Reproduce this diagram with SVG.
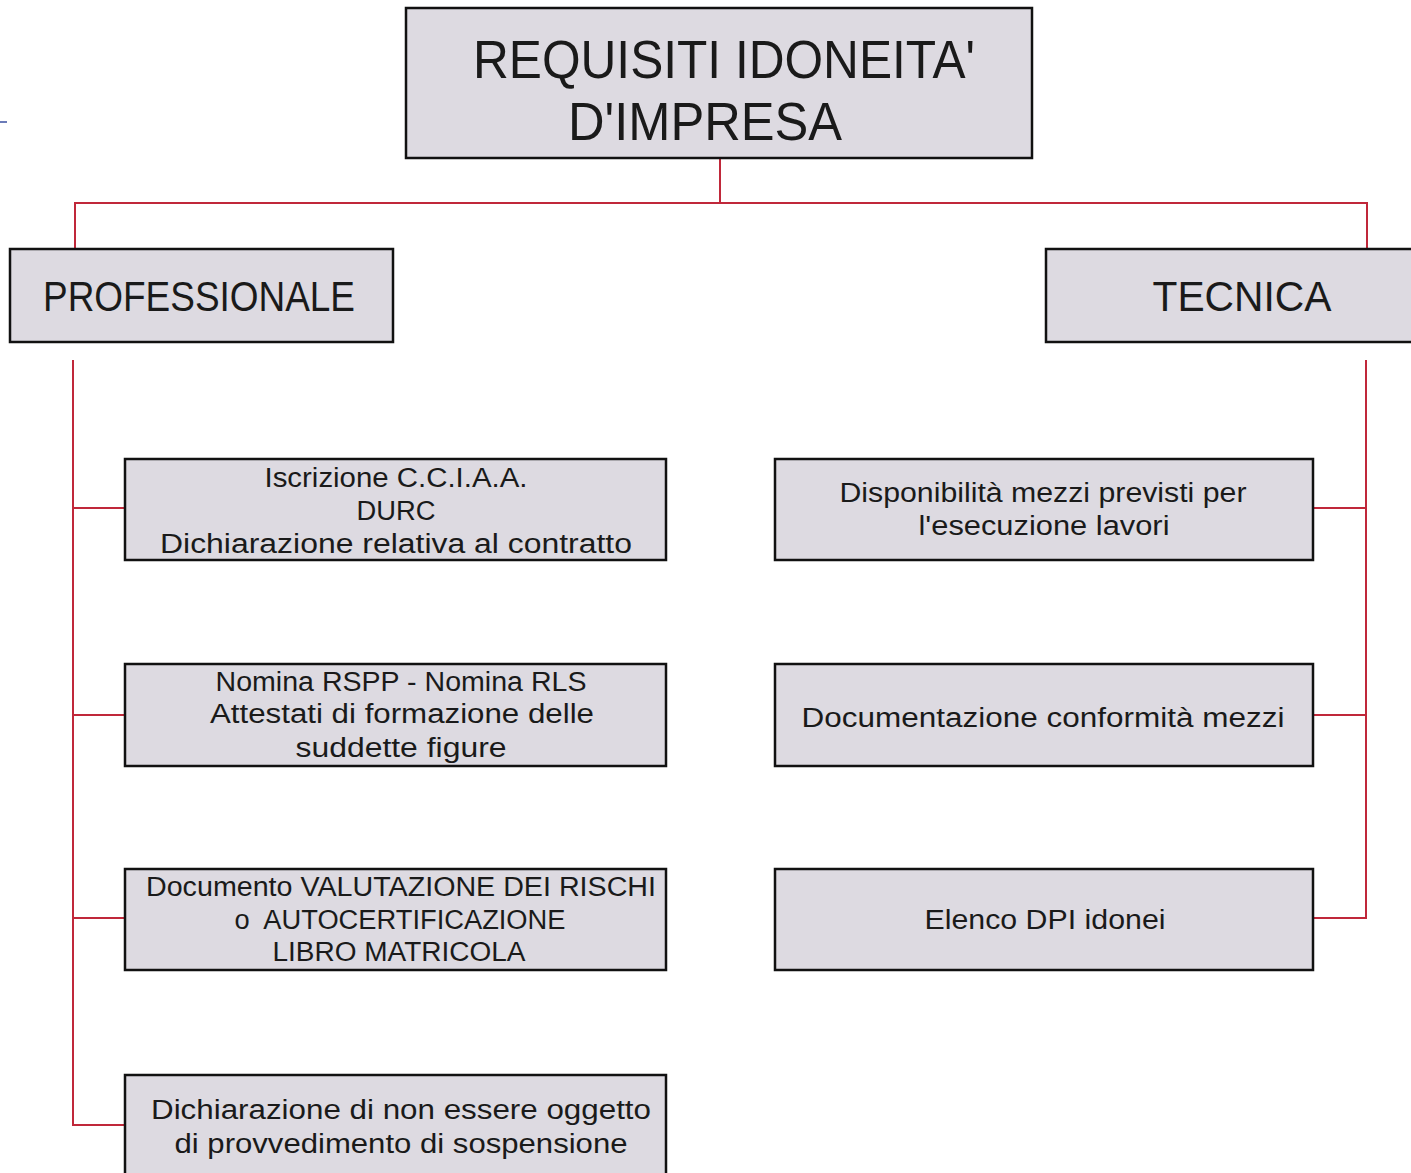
<svg xmlns="http://www.w3.org/2000/svg" width="1411" height="1173" viewBox="0 0 1411 1173">
<style>
.box{fill:#dddae1;stroke:#111;stroke-width:2.5}
.t{font-family:"Liberation Sans",Arial,sans-serif;fill:#1a1a1a;text-anchor:middle}
.big{font-size:54px}
.mid{font-size:42px}
.sm{font-size:27px}
.c{fill:none;stroke:#c0283a;stroke-width:2}
</style>
<rect width="1411" height="1173" fill="#fff"/>
<line x1="0" y1="122" x2="7" y2="122" stroke="#3a4fa0" stroke-width="1.5"/>
<g id="connectors">
<polyline class="c" points="720,158 720,203"/>
<polyline class="c" points="75,249 75,203 1367,203 1367,249"/>
<polyline class="c" points="73,360 73,1125 125,1125"/>
<line class="c" x1="73" y1="508" x2="125" y2="508"/>
<line class="c" x1="73" y1="715" x2="125" y2="715"/>
<line class="c" x1="73" y1="918" x2="125" y2="918"/>
<polyline class="c" points="1366,360 1366,918 1313,918"/>
<line class="c" x1="1313" y1="508" x2="1366" y2="508"/>
<line class="c" x1="1313" y1="715" x2="1366" y2="715"/>
</g>
<g id="root">
<rect class="box" x="406" y="8" width="626" height="150"/>
<text class="t big" x="724" y="78" textLength="502" lengthAdjust="spacingAndGlyphs">REQUISITI IDONEITA'</text>
<text class="t big" x="705" y="140" textLength="274" lengthAdjust="spacingAndGlyphs">D'IMPRESA</text>
</g>
<g id="professionale">
<rect class="box" x="10" y="249" width="383" height="93"/>
<text class="t mid" x="199" y="311" textLength="312" lengthAdjust="spacingAndGlyphs">PROFESSIONALE</text>
</g>
<g id="tecnica">
<rect class="box" x="1046" y="249" width="370" height="93"/>
<text class="t mid" x="1242" y="311" textLength="179" lengthAdjust="spacingAndGlyphs">TECNICA</text>
</g>
<g id="p1">
<rect class="box" x="125" y="459" width="541" height="101"/>
<text class="t sm" x="396" y="487" textLength="263" lengthAdjust="spacingAndGlyphs">Iscrizione C.C.I.A.A.</text>
<text class="t sm" x="396" y="520" textLength="79" lengthAdjust="spacingAndGlyphs">DURC</text>
<text class="t sm" x="396" y="553" textLength="472" lengthAdjust="spacingAndGlyphs">Dichiarazione relativa al contratto</text>
</g>
<g id="p2">
<rect class="box" x="125" y="664" width="541" height="102"/>
<text class="t sm" x="401" y="691" textLength="371" lengthAdjust="spacingAndGlyphs">Nomina RSPP - Nomina RLS</text>
<text class="t sm" x="402" y="723" textLength="384" lengthAdjust="spacingAndGlyphs">Attestati di formazione delle</text>
<text class="t sm" x="401" y="757" textLength="211" lengthAdjust="spacingAndGlyphs">suddette figure</text>
</g>
<g id="p3">
<rect class="box" x="125" y="869" width="541" height="101"/>
<text class="t sm" x="401" y="896" textLength="510" lengthAdjust="spacingAndGlyphs">Documento VALUTAZIONE DEI RISCHI</text>
<text class="t sm" x="400" y="929" textLength="331" lengthAdjust="spacingAndGlyphs">o&#160; AUTOCERTIFICAZIONE</text>
<text class="t sm" x="399" y="961" textLength="253" lengthAdjust="spacingAndGlyphs">LIBRO MATRICOLA</text>
</g>
<g id="p4">
<rect class="box" x="125" y="1075" width="541" height="110"/>
<text class="t sm" x="401" y="1119" textLength="500" lengthAdjust="spacingAndGlyphs">Dichiarazione di non essere oggetto</text>
<text class="t sm" x="401" y="1153" textLength="453" lengthAdjust="spacingAndGlyphs">di provvedimento di sospensione</text>
</g>
<g id="t1">
<rect class="box" x="775" y="459" width="538" height="101"/>
<text class="t sm" x="1043" y="502" textLength="407" lengthAdjust="spacingAndGlyphs">Disponibilità mezzi previsti per</text>
<text class="t sm" x="1044" y="535" textLength="251" lengthAdjust="spacingAndGlyphs">l'esecuzione lavori</text>
</g>
<g id="t2">
<rect class="box" x="775" y="664" width="538" height="102"/>
<text class="t sm" x="1043" y="727" textLength="483" lengthAdjust="spacingAndGlyphs">Documentazione conformità mezzi</text>
</g>
<g id="t3">
<rect class="box" x="775" y="869" width="538" height="101"/>
<text class="t sm" x="1045" y="929" textLength="241" lengthAdjust="spacingAndGlyphs">Elenco DPI idonei</text>
</g>
</svg>
